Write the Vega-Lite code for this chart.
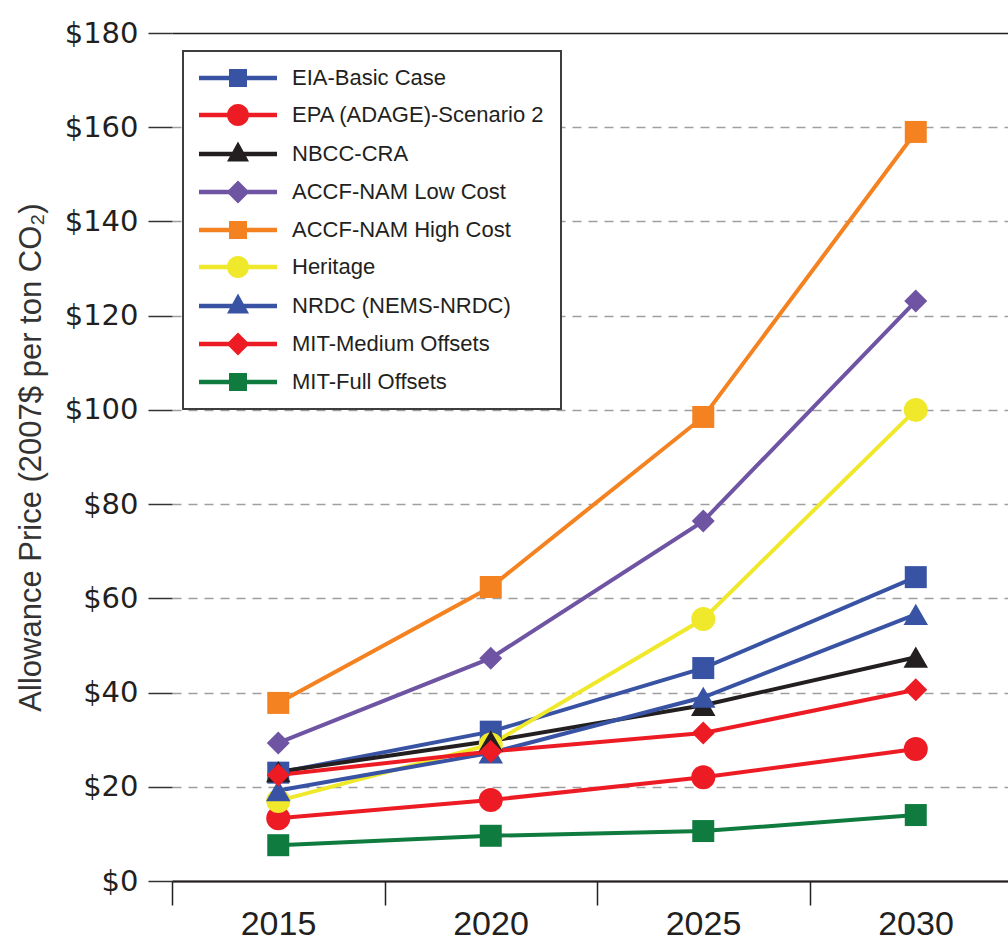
{
  "$schema": "https://vega.github.io/schema/vega-lite/v6.json",
  "autosize": {"type": "none"},
  "padding": {"left": 172, "top": 33, "right": 0, "bottom": 59},
  "width": 836,
  "height": 848,
  "background": "white",
  "config": {"view": {"stroke": null}, "legend": {"strokeWidth": 2}},
  "data": {"values": [
    {"series": "EIA-Basic Case", "year": 2015, "price": 23.0},
    {"series": "EIA-Basic Case", "year": 2020, "price": 31.7},
    {"series": "EIA-Basic Case", "year": 2025, "price": 45.2},
    {"series": "EIA-Basic Case", "year": 2030, "price": 64.5},
    {"series": "EPA (ADAGE)-Scenario 2", "year": 2015, "price": 13.3},
    {"series": "EPA (ADAGE)-Scenario 2", "year": 2020, "price": 17.2},
    {"series": "EPA (ADAGE)-Scenario 2", "year": 2025, "price": 22.0},
    {"series": "EPA (ADAGE)-Scenario 2", "year": 2030, "price": 28.0},
    {"series": "NBCC-CRA", "year": 2015, "price": 23.2},
    {"series": "NBCC-CRA", "year": 2020, "price": 29.7},
    {"series": "NBCC-CRA", "year": 2025, "price": 37.3},
    {"series": "NBCC-CRA", "year": 2030, "price": 47.5},
    {"series": "ACCF-NAM Low Cost", "year": 2015, "price": 29.3},
    {"series": "ACCF-NAM Low Cost", "year": 2020, "price": 47.3},
    {"series": "ACCF-NAM Low Cost", "year": 2025, "price": 76.4},
    {"series": "ACCF-NAM Low Cost", "year": 2030, "price": 123.1},
    {"series": "ACCF-NAM High Cost", "year": 2015, "price": 37.8},
    {"series": "ACCF-NAM High Cost", "year": 2020, "price": 62.4},
    {"series": "ACCF-NAM High Cost", "year": 2025, "price": 98.5},
    {"series": "ACCF-NAM High Cost", "year": 2030, "price": 159.0},
    {"series": "Heritage", "year": 2015, "price": 17.0},
    {"series": "Heritage", "year": 2020, "price": 29.0},
    {"series": "Heritage", "year": 2025, "price": 55.6},
    {"series": "Heritage", "year": 2030, "price": 100.0},
    {"series": "NRDC (NEMS-NRDC)", "year": 2015, "price": 19.2},
    {"series": "NRDC (NEMS-NRDC)", "year": 2020, "price": 27.2},
    {"series": "NRDC (NEMS-NRDC)", "year": 2025, "price": 39.0},
    {"series": "NRDC (NEMS-NRDC)", "year": 2030, "price": 56.6},
    {"series": "MIT-Medium Offsets", "year": 2015, "price": 22.5},
    {"series": "MIT-Medium Offsets", "year": 2020, "price": 27.5},
    {"series": "MIT-Medium Offsets", "year": 2025, "price": 31.4},
    {"series": "MIT-Medium Offsets", "year": 2030, "price": 40.6},
    {"series": "MIT-Full Offsets", "year": 2015, "price": 7.6},
    {"series": "MIT-Full Offsets", "year": 2020, "price": 9.6},
    {"series": "MIT-Full Offsets", "year": 2025, "price": 10.6},
    {"series": "MIT-Full Offsets", "year": 2030, "price": 14.0}
  ]},
  "encoding": {
    "x": {
      "field": "year", "type": "quantitative",
      "scale": {"domain": [2012.5, 2032.17], "nice": false, "zero": false},
      "axis": {
        "title": null,
        "values": [2012.5, 2017.5, 2022.5, 2027.5],
        "labelExpr": "toString(datum.value + 2.5)",
        "labelOffset": 106,
        "labelFlush": false,
        "labelOverlap": false,
        "labelBound": false,
        "labelFont": "Liberation Sans",
        "labelFontSize": 34,
        "labelColor": "#231F20",
        "labelPadding": 2,
        "tickSize": 24,
        "tickColor": "#231F20",
        "tickWidth": 1.5,
        "domainColor": "#231F20",
        "domainWidth": 2,
        "grid": false
      }
    },
    "y": {
      "field": "price", "type": "quantitative",
      "scale": {"domain": [0, 180], "nice": false},
      "axis": {
        "title": "Allowance Price (2007$ per ton CO₂)",
        "titleFont": "Liberation Sans",
        "titleFontSize": 31,
        "titleFontWeight": "normal",
        "titleColor": "#333333",
        "titlePadding": 17,
        "values": [0, 20, 40, 60, 80, 100, 120, 140, 160, 180],
        "labelExpr": "'$' + datum.value",
        "labelFont": "DejaVu Sans",
        "labelFontSize": 29,
        "labelColor": "#231F20",
        "labelPadding": 10,
        "domain": false,
        "tickSize": 24,
        "tickColor": "#333333",
        "tickWidth": 1.5,
        "grid": true,
        "gridColor": {"condition": {"test": "datum.value === 180 || datum.value === 0", "value": "#231F20"}, "value": "#9E9E9E"},
        "gridDash": {"condition": {"test": "datum.value === 180 || datum.value === 0", "value": []}, "value": [9, 7]},
        "gridWidth": 1.5
      }
    },
    "color": {
      "field": "series", "type": "nominal",
      "scale": {
        "domain": ["EIA-Basic Case", "EPA (ADAGE)-Scenario 2", "NBCC-CRA", "ACCF-NAM Low Cost", "ACCF-NAM High Cost", "Heritage", "NRDC (NEMS-NRDC)", "MIT-Medium Offsets", "MIT-Full Offsets"],
        "range": ["#3953A4", "#ED1C24", "#231F20", "#6F54A3", "#F58220", "#F0E82A", "#3953A4", "#ED1C24", "#0F7B3E"]
      },
      "legend": {
        "title": null,
        "orient": "none",
        "legendX": 11,
        "legendY": 18,
        "padding": 16,
        "fillColor": "white",
        "strokeColor": "#3D3D3D",
        "labelFont": "Liberation Sans",
        "labelFontSize": 22,
        "labelColor": "#231F20",
        "labelLimit": 400,
        "labelOffset": 71,
        "rowPadding": 15,
        "symbolSize": 400,
        "symbolStrokeWidth": 0,
        "symbolOpacity": 1
      }
    }
  },
  "layer": [
    {
      "mark": {"type": "line", "strokeWidth": 4}
    },
    {
      "mark": {"type": "point", "filled": true, "opacity": 0},
      "encoding": {
        "shape": {
          "field": "series", "type": "nominal",
          "scale": {
            "domain": ["EIA-Basic Case", "EPA (ADAGE)-Scenario 2", "NBCC-CRA", "ACCF-NAM Low Cost", "ACCF-NAM High Cost", "Heritage", "NRDC (NEMS-NRDC)", "MIT-Medium Offsets", "MIT-Full Offsets"],
            "range": [
              "M-1.1,-0.22H6.7V0.22H-1.1Z M1.9,-0.9H3.7V0.9H1.9Z",
              "M-1.1,-0.22H6.7V0.22H-1.1Z M1.7,0A1.1,1.1 0 1,1 3.9,0A1.1,1.1 0 1,1 1.7,0Z",
              "M-1.1,-0.22H6.7V0.22H-1.1Z M2.8,-1.25L3.9,0.75L1.7,0.75Z",
              "M-1.1,-0.22H6.7V0.22H-1.1Z M2.8,-1.15L3.95,0L2.8,1.15L1.65,0Z",
              "M-1.1,-0.22H6.7V0.22H-1.1Z M1.9,-0.9H3.7V0.9H1.9Z",
              "M-1.1,-0.22H6.7V0.22H-1.1Z M1.7,0A1.1,1.1 0 1,1 3.9,0A1.1,1.1 0 1,1 1.7,0Z",
              "M-1.1,-0.22H6.7V0.22H-1.1Z M2.8,-1.25L3.9,0.75L1.7,0.75Z",
              "M-1.1,-0.22H6.7V0.22H-1.1Z M2.8,-1.15L3.95,0L2.8,1.15L1.65,0Z",
              "M-1.1,-0.22H6.7V0.22H-1.1Z M1.9,-0.9H3.7V0.9H1.9Z"
            ]
          },
          "legend": {
            "title": null,
            "orient": "none",
            "legendX": 11,
            "legendY": 18,
            "padding": 16,
            "fillColor": "white",
            "strokeColor": "#3D3D3D",
            "labelFont": "Liberation Sans",
            "labelFontSize": 22,
            "labelColor": "#231F20",
            "labelLimit": 400,
            "labelOffset": 71,
            "rowPadding": 15,
            "symbolSize": 400,
            "symbolStrokeWidth": 0,
            "symbolOpacity": 1
          }
        }
      }
    },
    {
      "transform": [{"filter": {"field": "series", "oneOf": ["EIA-Basic Case", "ACCF-NAM High Cost", "MIT-Full Offsets"]}}],
      "mark": {"type": "point", "filled": true, "opacity": 1, "shape": "square", "size": 484}
    },
    {
      "transform": [{"filter": {"field": "series", "oneOf": ["EPA (ADAGE)-Scenario 2", "Heritage"]}}],
      "mark": {"type": "point", "filled": true, "opacity": 1, "shape": "circle", "size": 576}
    },
    {
      "transform": [{"filter": {"field": "series", "oneOf": ["NBCC-CRA", "NRDC (NEMS-NRDC)"]}}],
      "mark": {"type": "point", "filled": true, "opacity": 1, "shape": "triangle-up", "size": 600}
    },
    {
      "transform": [{"filter": {"field": "series", "oneOf": ["ACCF-NAM Low Cost", "MIT-Medium Offsets"]}}],
      "mark": {"type": "point", "filled": true, "opacity": 1, "shape": "diamond", "size": 529}
    }
  ]
}
